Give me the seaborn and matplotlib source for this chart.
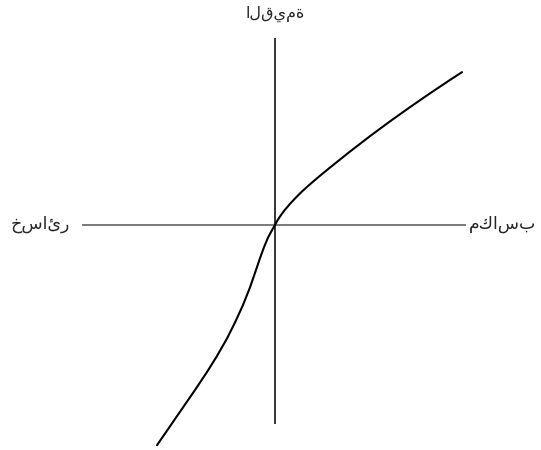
import matplotlib
matplotlib.use("Agg")
import matplotlib.pyplot as plt
import seaborn as sns
import pandas as pd

sns.set_theme(style="white")
plt.rcParams['font.family'] = ['DejaVu Sans']

# value function (outcome -> value)
gain_x = [0, 2, 4, 7, 10, 15, 20, 27, 35, 45, 55, 75, 95, 115, 135, 155, 175, 187]
gain_y = [0, 3.8, 7.0, 11.35, 15.25, 21.15, 26.55, 33.55, 40.75, 49.25, 57.45, 73.45,
          88.85, 103.65, 117.85, 131.65, 145.05, 152.85]
loss_x = [-2, -4, -7, -11, -15, -19, -25, -32, -40, -48, -58, -68, -80, -92, -105, -118]
loss_y = [-3.4, -7, -12.6, -22.2, -33.2, -45, -62.4, -80, -97.5, -113.5, -131, -147,
          -165, -182.4, -201.3, -220.2]

label_value = "القيمة"
label_loss = "خسائر"
label_gain = "مكاسب"

xs = list(reversed(loss_x)) + gain_x
ys = list(reversed(loss_y)) + gain_y
df = pd.DataFrame({"x": xs, "y": ys})

fig = plt.figure(figsize=(5.41, 4.50), dpi=100)
ax = fig.add_axes([0, 0, 1, 1])
ax.set_xlim(-275, 266)
ax.set_ylim(-225, 225)
ax.axis("off")

ax.plot([-193, 191], [0, 0], color="#555555", lw=1.1, solid_capstyle="butt")
ax.plot([0, 0], [-199, 187], color="black", lw=1.1, solid_capstyle="butt")

sns.lineplot(data=df, x="x", y="y", sort=False, color="black", lw=1.5, ax=ax)

ax.text(0, 211, label_value, ha="center", va="center", fontsize=11.5)
ax.text(-235, 1, label_loss, ha="center", va="center", fontsize=12.5)
ax.text(228, 1, label_gain, ha="center", va="center", fontsize=12.5)

fig.savefig("out.png", dpi=100)
